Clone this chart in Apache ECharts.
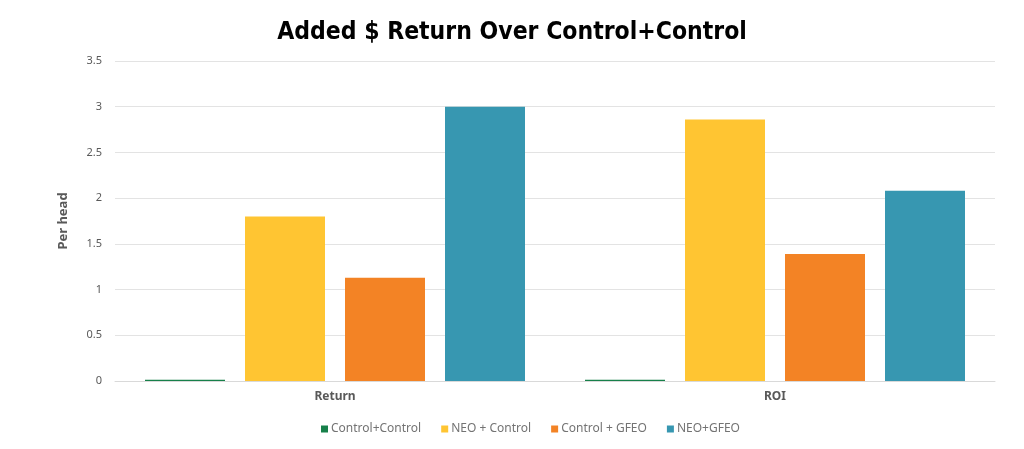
<!DOCTYPE html>
<html>
<head>
<meta charset="utf-8">
<script src="https://cdn.jsdelivr.net/npm/echarts@6/dist/echarts.min.js"></script>
<style>
  html, body { margin: 0; padding: 0; background: #fff; }
  #chart { width: 1024px; height: 449px; }
</style>
</head>
<body>
<div id="chart"></div>
<script>
// data
const categories = ['Return', 'ROI'];
const seriesNames = ['Control+Control', 'NEO + Control', 'Control + GFEO', 'NEO+GFEO'];
const controlControl = [0.015, 0.015];
const neoControl = [1.8, 2.86];
const controlGfeo = [1.13, 1.39];
const neoGfeo = [3.0, 2.08];
const yTicks = [0, 0.5, 1, 1.5, 2, 2.5, 3, 3.5];

const colors = ['#17804a', '#ffc532', '#f38325', '#3797b1'];
const values = [controlControl, neoControl, controlGfeo, neoGfeo];

const myChart = echarts.init(document.getElementById('chart'));

const option = {
    color: colors,
    title: {
        text: 'Added $ Return Over Control+Control',
        left: 'center',
        top: 15,
        textStyle: {
            fontFamily: '"DejaVu Sans Condensed", "DejaVu Sans", sans-serif',
            fontWeight: 'bold',
            fontSize: 24.5,
            color: '#000'
        }
    },
    grid: {
        left: 115,
        right: 29,
        top: 61,
        bottom: 68
    },
    legend: {
        bottom: 9,
        left: 316,
        itemWidth: 7,
        itemHeight: 7,
        itemGap: 20,
        icon: 'rect',
        textStyle: {
            fontFamily: 'Noto Sans',
            fontSize: 12,
            color: '#737373',
            padding: [0, 0, 0, -2]
        },
        data: seriesNames
    },
    xAxis: {
        type: 'category',
        data: categories,
        axisTick: { show: false },
        axisLine: { lineStyle: { color: '#d9d9d9', width: 1 } },
        axisLabel: {
            fontFamily: 'Noto Sans',
            fontWeight: 'bold',
            fontSize: 12,
            color: '#595959',
            margin: 10
        }
    },
    yAxis: {
        type: 'value',
        min: 0,
        max: yTicks[yTicks.length - 1],
        interval: yTicks[1] - yTicks[0],
        name: 'Per head',
        nameLocation: 'middle',
        nameGap: 45,
        nameRotate: 90,
        nameTextStyle: {
            fontFamily: 'Noto Sans',
            fontWeight: 'bold',
            fontSize: 13,
            color: '#595959'
        },
        axisLabel: {
            fontFamily: 'Noto Sans',
            fontSize: 11,
            color: '#595959',
            margin: 13
        },
        splitLine: { lineStyle: { color: '#e3e3e3', width: 1 } }
    },
    series: seriesNames.map((name, i) => ({
        name: name,
        type: 'bar',
        data: values[i],
        barWidth: 80,
        barGap: '25%'
    }))
};

myChart.setOption(option);
window.addEventListener('resize', function () {
    myChart.resize();
});
</script>
</body>
</html>
